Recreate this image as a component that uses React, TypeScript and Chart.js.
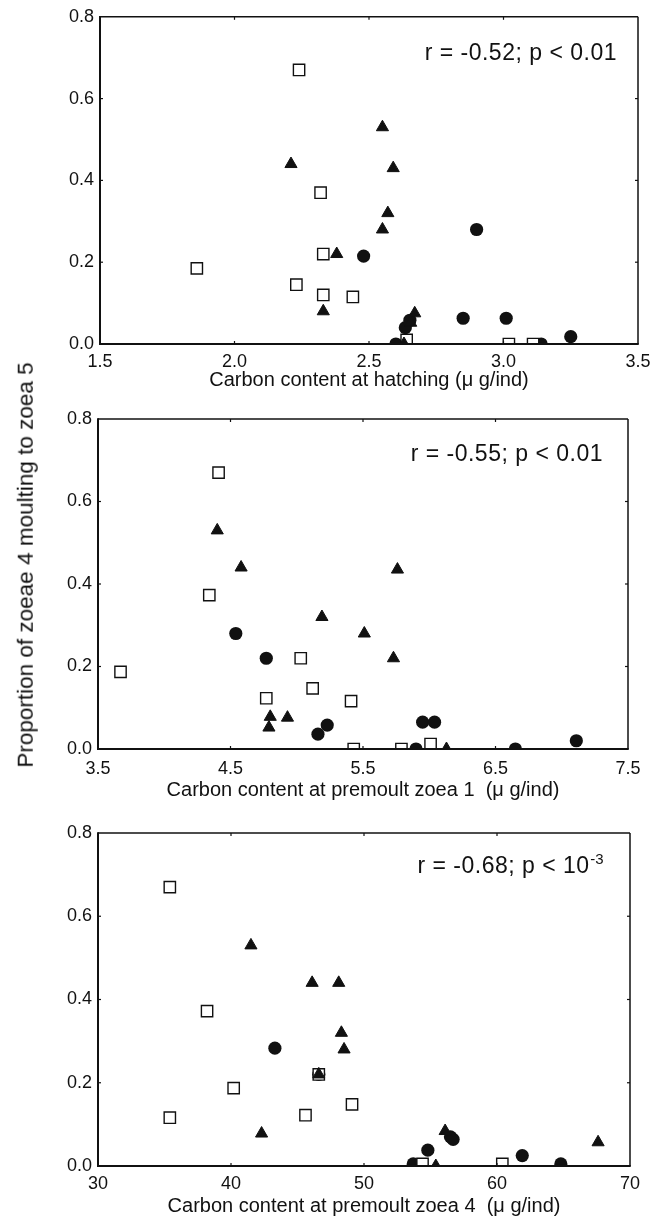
import React, { useEffect, useRef } from 'react';
import { Chart, registerables } from 'chart.js';

Chart.register(...registerables);

// ---------- Data ----------
// Panel 1: carbon content at hatching
const hatchSquareX = [2.24, 2.32, 1.86, 2.33, 2.23, 2.33, 2.44, 2.64, 3.02, 3.11];
const hatchSquareY = [0.67, 0.37, 0.185, 0.22, 0.145, 0.12, 0.115, 0.01, 0.0, 0.0];
const hatchTriangleX = [2.21, 2.55, 2.59, 2.57, 2.55, 2.38, 2.33, 2.67, 2.655, 2.63];
const hatchTriangleY = [0.44, 0.53, 0.43, 0.32, 0.28, 0.22, 0.08, 0.075, 0.052, 0.0];
const hatchCircleX = [2.48, 2.9, 2.85, 3.01, 3.25, 2.6, 2.635, 2.652, 3.14];
const hatchCircleY = [0.215, 0.28, 0.063, 0.063, 0.018, 0.0, 0.04, 0.058, 0.0];

// Panel 2: carbon content at premoult zoea 1
const zoea1SquareX = [4.41, 4.34, 3.67, 5.03, 5.12, 4.77, 5.41, 5.43, 5.79, 6.01];
const zoea1SquareY = [0.67, 0.373, 0.187, 0.22, 0.147, 0.123, 0.116, 0.0, 0.0, 0.012];
const zoea1TriangleX = [4.4, 4.58, 5.76, 5.19, 5.51, 5.73, 4.8, 4.79, 4.93, 6.13];
const zoea1TriangleY = [0.53, 0.44, 0.435, 0.32, 0.28, 0.22, 0.078, 0.052, 0.076, 0.0];
const zoea1CircleX = [4.54, 4.77, 5.16, 5.23, 5.95, 6.04, 7.11, 5.9, 6.65];
const zoea1CircleY = [0.28, 0.22, 0.036, 0.058, 0.065, 0.065, 0.02, 0.0, 0.0];

// Panel 3: carbon content at premoult zoea 4
const zoea4SquareX = [35.4, 38.2, 40.2, 35.4, 45.6, 46.6, 49.1, 54.4, 60.4];
const zoea4SquareY = [0.67, 0.372, 0.187, 0.116, 0.122, 0.22, 0.148, 0.005, 0.005];
const zoea4TriangleX = [41.5, 46.1, 48.1, 48.3, 48.5, 46.6, 42.3, 56.1, 67.6, 55.4];
const zoea4TriangleY = [0.53, 0.44, 0.44, 0.32, 0.28, 0.22, 0.078, 0.084, 0.057, 0.0];
const zoea4CircleX = [43.3, 46.6, 54.8, 56.5, 56.7, 61.9, 64.8, 53.7];
const zoea4CircleY = [0.283, 0.22, 0.038, 0.07, 0.064, 0.025, 0.005, 0.005];

// Ticks
const yTicks = [0, 0.2, 0.4, 0.6, 0.8];
const xTicksHatch = [1.5, 2.0, 2.5, 3.0, 3.5];
const xTicksZoea1 = [3.5, 4.5, 5.5, 6.5, 7.5];
const xTicksZoea4 = [30, 40, 50, 60, 70];

// Texts
const xTitleHatch = 'Carbon content at hatching (\u03bc g/ind)';
const xTitleZoea1 = 'Carbon content at premoult zoea 1  (\u03bc g/ind)';
const xTitleZoea4 = 'Carbon content at premoult zoea 4  (\u03bc g/ind)';
const statHatch = 'r = -0.52; p < 0.01';
const statZoea1 = 'r = -0.55; p < 0.01';
const statZoea4 = 'r = -0.68; p < 10';
const statZoea4Sup = '-3';
const yTitle = 'Proportion of zoeae 4 moulting to zoea 5';

// ---------- Layout / style ----------
const FONT = "'Liberation Sans', Arial, Helvetica, sans-serif";
const INK = '#111';

type PanelCfg = {
  top: number;
  height: number;
  padding: { top: number; left: number; right: number; bottom: number };
  xMin: number;
  xMax: number;
  xTicks: number[];
  xDecimals: number;
  xTitle: string;
  tickPad: number;
  xAxisH: number;
  titlePadBottom: number;
  sq: [number[], number[]];
  tri: [number[], number[]];
  circ: [number[], number[]];
  stat: string;
  statSup: string;
  statRight: number;
  statBase: number;
};

const panels: PanelCfg[] = [
  {
    top: 0, height: 400,
    padding: { top: 16, left: 40, right: 27, bottom: 8 },
    xMin: 1.5, xMax: 3.5, xTicks: xTicksHatch, xDecimals: 1, xTitle: xTitleHatch,
    tickPad: 7, xAxisH: 48, titlePadBottom: 2,
    sq: [hatchSquareX, hatchSquareY], tri: [hatchTriangleX, hatchTriangleY], circ: [hatchCircleX, hatchCircleY],
    stat: statHatch, statSup: '', statRight: 21, statBase: 43,
  },
  {
    top: 400, height: 410,
    padding: { top: 19, left: 38, right: 37, bottom: 9 },
    xMin: 3.5, xMax: 7.5, xTicks: xTicksZoea1, xDecimals: 1, xTitle: xTitleZoea1,
    tickPad: 9, xAxisH: 52, titlePadBottom: 1,
    sq: [zoea1SquareX, zoea1SquareY], tri: [zoea1TriangleX, zoea1TriangleY], circ: [zoea1CircleX, zoea1CircleY],
    stat: statZoea1, statSup: '', statRight: 25, statBase: 42,
  },
  {
    top: 810, height: 409,
    padding: { top: 23, left: 38, right: 35, bottom: 1 },
    xMin: 30, xMax: 70, xTicks: xTicksZoea4, xDecimals: 0, xTitle: xTitleZoea4,
    tickPad: 7, xAxisH: 52, titlePadBottom: 1.5,
    sq: [zoea4SquareX, zoea4SquareY], tri: [zoea4TriangleX, zoea4TriangleY], circ: [zoea4CircleX, zoea4CircleY],
    stat: statZoea4, statSup: statZoea4Sup, statRight: 27, statBase: 40,
  },
];

const toPoints = (xs: number[], ys: number[]) => xs.map((x, i) => ({ x, y: ys[i] }));

const framePlugin = {
  id: 'frame',
  afterDraw(chart: any) {
    const { ctx, chartArea } = chart;
    const { left, top, right, bottom } = chartArea;
    const xs = chart.scales.x;
    const ys = chart.scales.y;
    ctx.save();
    ctx.strokeStyle = INK;
    ctx.lineWidth = 1.2;
    const seg = (x1: number, y1: number, x2: number, y2: number) => {
      ctx.beginPath();
      ctx.moveTo(x1, y1);
      ctx.lineTo(x2, y2);
      ctx.stroke();
    };
    xs.ticks.forEach((t: any) => {
      const px = xs.getPixelForValue(t.value);
      if (px <= left + 1 || px >= right - 1) return;
      seg(px, bottom, px, bottom - 3);
      seg(px, top, px, top + 3);
    });
    ys.ticks.forEach((t: any) => {
      const py = ys.getPixelForValue(t.value);
      if (py <= top + 1 || py >= bottom - 1) return;
      seg(left, py, left + 3, py);
      seg(right, py, right - 3, py);
    });
    ctx.lineWidth = 1.5;
    seg(left, top, right, top);
    seg(right, top, right, bottom);
    ctx.lineWidth = 2;
    seg(left, top - 0.75, left, bottom + 1);
    seg(left - 1, bottom, right + 0.75, bottom);
    ctx.restore();
  },
};

const statPlugin = {
  id: 'stat',
  afterDraw(chart: any, _args: any, opts: any) {
    const { ctx, chartArea } = chart;
    const xr = chartArea.right - opts.right;
    const yb = chartArea.top + opts.base;
    ctx.save();
    ctx.fillStyle = INK;
    ctx.textBaseline = 'alphabetic';
    let supW = 0;
    if (opts.sup) {
      ctx.font = `15px ${FONT}`;
      (ctx as any).letterSpacing = '0px';
      supW = ctx.measureText(opts.sup).width;
    }
    ctx.font = `23px ${FONT}`;
    (ctx as any).letterSpacing = '0.5px';
    ctx.textAlign = 'right';
    ctx.fillText(opts.text, xr - supW, yb);
    if (opts.sup) {
      ctx.font = `15px ${FONT}`;
      (ctx as any).letterSpacing = '0px';
      ctx.textAlign = 'left';
      ctx.fillText(opts.sup, xr - supW + 0.5, yb - 9);
    }
    ctx.restore();
  },
};

function buildChart(canvas: HTMLCanvasElement, cfg: PanelCfg) {
  return new Chart(canvas, {
    type: 'scatter',
    data: {
      datasets: [
        {
          label: 'triangles',
          data: toPoints(cfg.tri[0], cfg.tri[1]),
          pointStyle: 'triangle',
          pointRadius: 7,
          backgroundColor: INK,
          borderColor: INK,
          borderWidth: 1,
          clip: 0,
        },
        {
          label: 'squares',
          data: toPoints(cfg.sq[0], cfg.sq[1]),
          pointStyle: 'rect',
          pointRadius: 8,
          backgroundColor: '#fff',
          borderColor: INK,
          borderWidth: 1.4,
          clip: 0,
        },
        {
          label: 'circles',
          data: toPoints(cfg.circ[0], cfg.circ[1]),
          pointStyle: 'circle',
          pointRadius: 6.6,
          backgroundColor: INK,
          borderColor: INK,
          borderWidth: 0,
          clip: 0,
        },
      ] as any,
    },
    options: {
      animation: false,
      responsive: false,
      events: [],
      layout: { padding: cfg.padding },
      plugins: {
        legend: { display: false },
        tooltip: { enabled: false },
        stat: { text: cfg.stat, sup: cfg.statSup, right: cfg.statRight, base: cfg.statBase },
      } as any,
      scales: {
        x: {
          type: 'linear',
          min: cfg.xMin,
          max: cfg.xMax,
          afterBuildTicks: (s: any) => {
            s.ticks = cfg.xTicks.map((v) => ({ value: v }));
          },
          afterFit: (s: any) => {
            s.height = cfg.xAxisH;
          },
          grid: { display: false, drawTicks: false, tickLength: 0 },
          border: { display: false },
          ticks: {
            padding: cfg.tickPad,
            color: INK,
            font: { family: FONT, size: 18 },
            maxRotation: 0,
            autoSkip: false,
            callback: (v: any) => Number(v).toFixed(cfg.xDecimals),
          },
          title: {
            display: true,
            text: cfg.xTitle,
            color: INK,
            font: { family: FONT, size: 20, lineHeight: 1 },
            padding: { top: 0, bottom: cfg.titlePadBottom },
          },
        },
        y: {
          type: 'linear',
          min: 0,
          max: 0.8,
          afterBuildTicks: (s: any) => {
            s.ticks = yTicks.map((v) => ({ value: v }));
          },
          afterFit: (s: any) => {
            s.width = 60;
          },
          grid: { display: false, drawTicks: false, tickLength: 0 },
          border: { display: false },
          ticks: {
            padding: 6,
            color: INK,
            font: { family: FONT, size: 18 },
            autoSkip: false,
            callback: (v: any) => Number(v).toFixed(1),
          },
        },
      },
    } as any,
    plugins: [framePlugin, statPlugin],
  });
}

function Panel({ cfg }: { cfg: PanelCfg }) {
  const ref = useRef<HTMLCanvasElement>(null);
  useEffect(() => {
    const chart = buildChart(ref.current as HTMLCanvasElement, cfg);
    return () => chart.destroy();
  }, [cfg]);
  return (
    <canvas
      ref={ref}
      width={665}
      height={cfg.height}
      style={{ position: 'absolute', left: 0, top: cfg.top, width: 665, height: cfg.height }}
    />
  );
}

export default function App() {
  return (
    <div style={{ position: 'absolute', left: 0, top: 0, width: 665, height: 1219, background: '#fff', overflow: 'hidden' }}>
      {panels.map((p, i) => (
        <Panel key={i} cfg={p} />
      ))}
      <div
        style={{
          position: 'absolute',
          left: 26,
          top: 565,
          transform: 'translate(-50%, -50%) rotate(-90deg)',
          whiteSpace: 'nowrap',
          fontFamily: FONT,
          fontSize: 22.5,
          lineHeight: 1,
          color: INK,
        }}
      >
        {yTitle}
      </div>
    </div>
  );
}
